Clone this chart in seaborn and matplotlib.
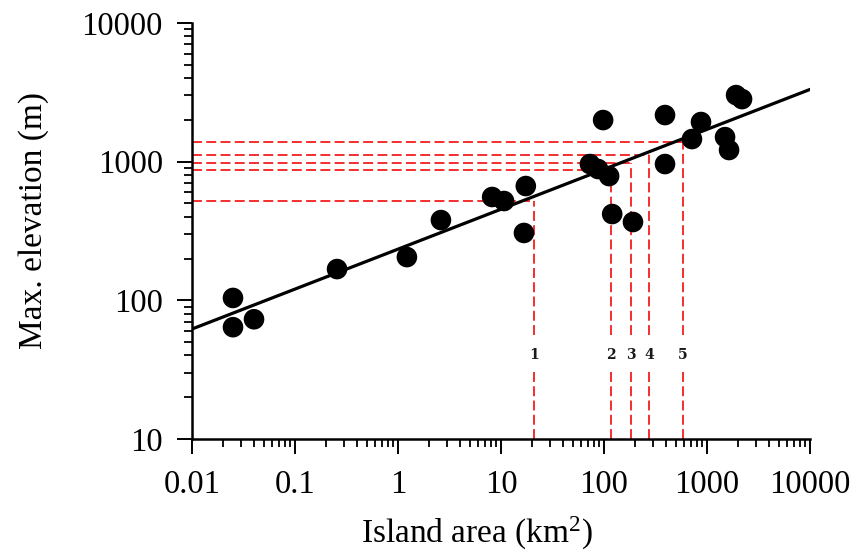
import numpy as np
import pandas as pd
import matplotlib
matplotlib.use("Agg")
import matplotlib.pyplot as plt
import seaborn as sns

# Island area (km^2) and maximum elevation (m)
area = [0.025, 0.025, 0.040, 0.256, 1.22, 2.61, 8.2, 10.7, 16.7, 17.4,
        73, 87.5, 112, 98, 120, 191, 391, 391, 714, 874, 1496, 1636, 1915, 2188]
elevation = [104, 64, 73, 168, 205, 379, 556, 520, 306, 667,
             961, 885, 787, 1995, 419, 367, 2168, 961, 1455, 1931, 1503, 1213, 3020, 2826]

# Power-law fit: log10(elev) = fit_intercept + fit_slope * log10(area)
fit_intercept = 2.369
fit_slope = 0.288
fit_range = [0.01, 10000]

# Reference islands
ref_labels = ["1", "2", "3", "4", "5"]
ref_area = [20.9, 117, 183, 273, 585]
ref_elev = [520, 870, 984, 1116, 1384]
label_elev = 40          # height of the number tags
gap_elev = (31, 56)      # break in the vertical guides around the tags

x_ticks = [0.01, 0.1, 1, 10, 100, 1000, 10000]
x_ticklabels = ["0.01", "0.1", "1", "10", "100", "1000", "10000"]
y_ticks = [10, 100, 1000, 10000]
y_ticklabels = ["10", "100", "1000", "10000"]

sns.set_style("ticks")
plt.rcParams["font.family"] = ["Liberation Serif", "DejaVu Serif"]
plt.rcParams["mathtext.fontset"] = "custom"
plt.rcParams["mathtext.rm"] = "Liberation Serif"
plt.rcParams["mathtext.default"] = "rm"
plt.rcParams["text.color"] = "black"
plt.rcParams["axes.labelcolor"] = "black"

fig = plt.figure(figsize=(8.56, 5.58), dpi=100)
ax = fig.add_axes([0.2243, 0.2133, 0.7220, 0.7455])

red = "#f41e1e"
dash = dict(color=red, lw=1.3, dashes=(5.5, 2.4), zorder=1)
for a, e in zip(ref_area, ref_elev):
    ax.plot([a, a], [10, gap_elev[0]], **dash)
    ax.plot([a, a], [gap_elev[1], e], **dash)
    ax.plot([0.01, a], [e, e], **dash)
for lab, a in zip(ref_labels, ref_area):
    ax.text(a, label_elev, lab, ha="center", va="center", fontsize=10,
            fontweight="bold", family="DejaVu Serif", color="#1a1a1a", zorder=2)

fx = np.array(fit_range)
fit_df = pd.DataFrame({"area": fx, "elev": 10 ** (fit_intercept + fit_slope * np.log10(fx))})
sns.lineplot(data=fit_df, x="area", y="elev", color="black", lw=2.3, ax=ax, zorder=3)

pts = pd.DataFrame({"area": area, "elev": elevation})
sns.scatterplot(data=pts, x="area", y="elev", color="black", s=220, edgecolor="none",
                ax=ax, zorder=4)

ax.set_xscale("log")
ax.set_yscale("log")
ax.set_xlim(0.01, 10000)
ax.set_ylim(10, 10000)
ax.set_xticks(x_ticks)
ax.set_xticklabels(x_ticklabels)
ax.set_yticks(y_ticks)
ax.set_yticklabels(y_ticklabels)

sns.despine(ax=ax)
for sp in ("left", "bottom"):
    ax.spines[sp].set_linewidth(1.8)
    ax.spines[sp].set_color("black")
ax.tick_params(which="major", length=11, width=1.4, labelsize=23.5, colors="black")
ax.tick_params(which="minor", length=5.5, width=1.3, colors="black")
ax.tick_params(axis="x", which="major", pad=11)
ax.tick_params(axis="y", which="major", pad=10)

ax.set_xlabel("Island area (km$^{2}$)", fontsize=24)
ax.set_ylabel("Max. elevation (m)", fontsize=24)
ax.xaxis.set_label_coords(0.461, -0.183)
ax.yaxis.set_label_coords(-0.232, 0.526)

fig.savefig("out.png", dpi=100)
